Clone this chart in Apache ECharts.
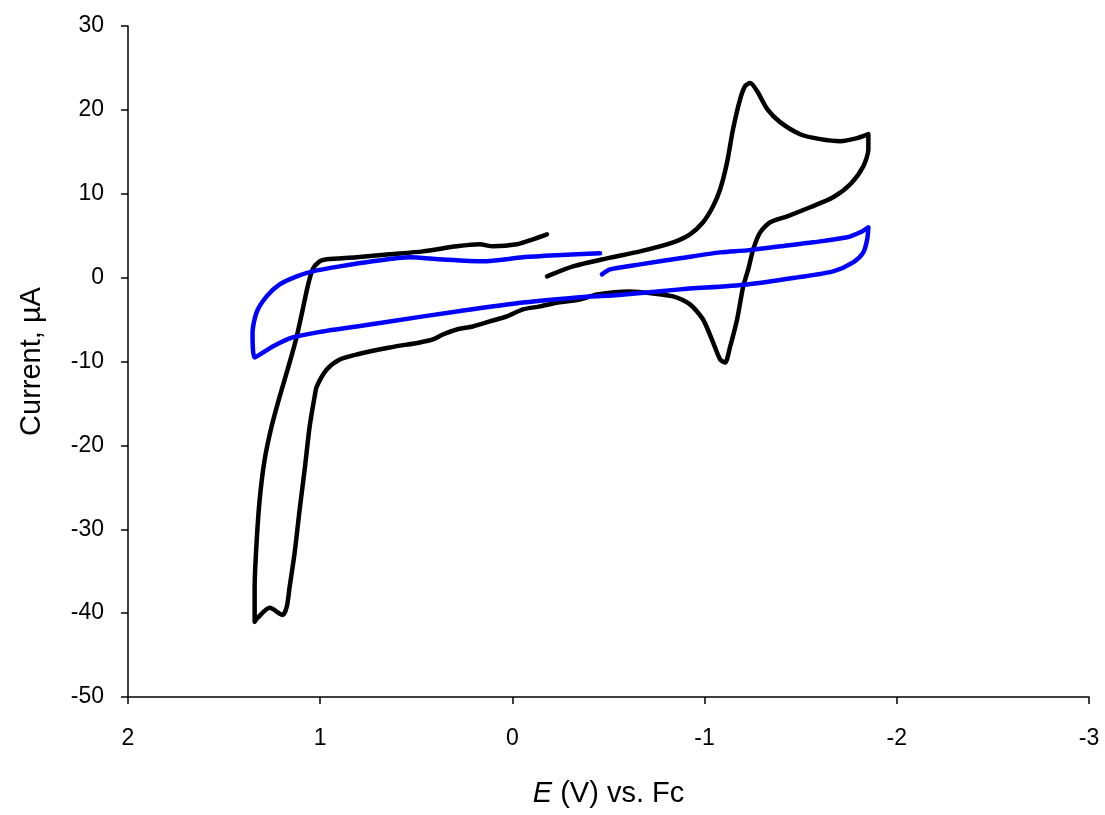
<!DOCTYPE html>
<html>
<head>
<meta charset="utf-8">
<script src="https://cdn.jsdelivr.net/npm/echarts@6/dist/echarts.min.js"></script>
<style>
html,body{margin:0;padding:0;background:#fff;}
#chart{width:1105px;height:815px;}
</style>
</head>
<body>
<div id="chart"></div>
<script>
// Potential (V vs. Fc) and current (µA)
var blackE = [-0.180,-0.315,-0.492,-0.664,-0.836,-0.924,-0.992,-1.044,-1.081,-1.117,-1.148,-1.185,-1.211,-1.237,-1.273,-1.326,-1.393,-1.497,-1.602,-1.706,-1.794,-1.852,
  -1.852,-1.826,-1.758,-1.669,-1.549,-1.430,-1.341,-1.289,-1.253,-1.227,-1.201,-1.169,-1.133,-1.107,-1.081,-1.044,-0.992,-0.924,-0.836,-0.732,-0.612,-0.440,-0.352,
  -0.237,-0.143,-0.055,0.029,0.117,0.206,0.289,0.362,0.414,0.482,0.638,0.810,0.898,0.966,1.018,1.029,1.055,1.081,1.107,1.133,1.159,1.174,1.195,1.263,1.326,1.341,
  1.341,1.331,1.315,1.289,1.253,1.211,1.159,1.122,1.091,1.065,1.039,1.003,0.966,0.810,0.638,0.466,0.289,0.169,0.102,-0.023,-0.107,-0.180];
var blackI = [0.15,1.34,2.30,3.13,4.21,5.16,6.60,8.51,10.54,13.76,17.70,21.28,22.84,23.19,22.24,20.09,18.54,17.10,16.51,16.27,16.63,17.10,
  15.31,13.28,11.13,9.58,8.39,7.31,6.60,5.40,3.37,0.99,-1.04,-4.99,-8.21,-10.12,-9.76,-7.73,-4.99,-3.19,-2.24,-1.88,-1.64,-2.00,-2.60,
  -2.96,-3.43,-3.79,-4.63,-5.22,-5.82,-6.18,-6.78,-7.37,-7.73,-8.33,-9.16,-9.76,-10.96,-12.99,-14.18,-17.76,-22.90,-27.67,-32.81,-36.87,-39.25,-40.21,-39.37,-40.57,-41.04,
  -36.87,-31.61,-26.48,-21.70,-17.76,-14.18,-10.12,-7.01,-3.79,-1.04,0.99,1.94,2.18,2.42,2.78,3.13,3.73,3.97,3.73,3.97,4.57,5.16];
var blueE = [-0.466,-0.508,-0.664,-0.872,-1.081,-1.221,-1.393,-1.565,-1.742,-1.810,-1.852,
  -1.846,-1.826,-1.773,-1.669,-1.482,-1.221,-0.872,-0.523,-0.404,-0.055,0.289,0.638,0.810,0.987,1.143,1.247,1.341,
  1.352,1.331,1.279,1.211,1.122,1.039,0.898,0.727,0.534,0.378,0.154,-0.055,-0.232,-0.456];
var blueI = [0.39,0.99,1.58,2.30,3.01,3.25,3.73,4.21,4.81,5.40,6.00,
  4.57,3.01,1.82,0.75,0.03,-0.81,-1.40,-2.12,-2.24,-2.96,-4.03,-5.22,-5.82,-6.42,-7.13,-8.21,-9.52,
  -6.54,-4.15,-2.24,-0.81,0.15,0.75,1.34,1.94,2.42,2.18,1.94,2.42,2.66,2.90];
var xTicks = {min: -3, max: 2, interval: 1};
var yTicks = {min: -50, max: 30, interval: 10};

function pairs(xs, ys){ return xs.map(function(x,i){ return [x, ys[i]]; }); }

var chart = echarts.init(document.getElementById('chart'), null, {renderer:'canvas'});
var font = '"Liberation Sans", Arial, sans-serif';
chart.setOption({
  animation: false,
  backgroundColor: '#ffffff',
  grid: {left: 128, right: 16, top: 26, bottom: 118, containLabel: false},
  xAxis: {
    type: 'value', inverse: true,
    min: xTicks.min, max: xTicks.max, interval: xTicks.interval,
    axisLine: {show: true, onZero: false, lineStyle: {color: '#000', width: 1.5}},
    axisTick: {show: true, inside: false, length: 7, lineStyle: {color: '#000', width: 1.5}},
    axisLabel: {color: '#000', fontSize: 23, fontFamily: font, margin: 30},
    splitLine: {show: false},
    name: '{i|E} (V) vs. Fc',
    nameLocation: 'middle', nameGap: 82,
    nameTextStyle: {color: '#000', fontSize: 29, fontFamily: font,
      rich: {i: {fontStyle: 'italic', fontSize: 29, fontFamily: font, color: '#000'}}}
  },
  yAxis: {
    type: 'value',
    min: yTicks.min, max: yTicks.max, interval: yTicks.interval,
    axisLine: {show: true, onZero: false, lineStyle: {color: '#000', width: 1.5}},
    axisTick: {show: true, inside: false, length: 7, lineStyle: {color: '#000', width: 1.5}},
    axisLabel: {color: '#000', fontSize: 23, fontFamily: font, margin: 24},
    splitLine: {show: false},
    name: 'Current, µA',
    nameLocation: 'middle', nameGap: 82,
    nameTextStyle: {color: '#000', fontSize: 29, fontFamily: font}
  },
  series: [
    {type: 'line', data: pairs(blackE, blackI), showSymbol: false, smooth: 0.25,
     lineStyle: {color: '#000000', width: 4.5, cap: 'round', join: 'round'}, z: 2},
    {type: 'line', data: pairs(blueE, blueI), showSymbol: false, smooth: 0.25,
     lineStyle: {color: '#0000ff', width: 4.5, cap: 'round', join: 'round'}, z: 3}
  ]
});
</script>
</body>
</html>
